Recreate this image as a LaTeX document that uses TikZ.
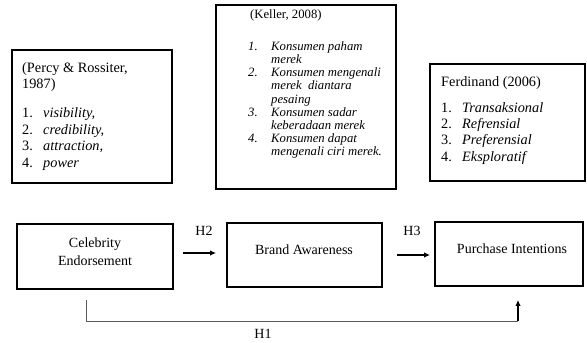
\documentclass[tikz,border=0pt]{standalone}
\usepackage{fontspec}
\setmainfont{Liberation Serif}
\usetikzlibrary{arrows.meta}
\tikzset{
  refbox/.style={draw,line width=1.5pt,inner sep=0pt},
  varbox/.style={draw,line width=1.8pt,inner sep=0pt},
  vartext/.style={inner sep=0pt,align=center,font=\fontsize{14}{18}\selectfont},
  reftext/.style={anchor=north west,inner sep=0pt},
  flow/.style={line width=1.3pt,-{Latex[length=6pt,width=5.5pt]}},
  link/.style={line width=0.8pt,black!65},
  hlabel/.style={inner sep=0pt,font=\fontsize{14}{16}\selectfont}
}
\begin{document}
\begin{tikzpicture}[x=1pt,y=-1pt]
	\useasboundingbox (0,0) rectangle (587,343);
	% theory boxes
	\node[refbox,minimum width=160pt,minimum height=133pt] (percy) at (92,116.5) {};
	\node[refbox,minimum width=180pt,minimum height=184pt] (keller) at (306,97) {};
	\node[refbox,minimum width=155pt,minimum height=117pt] (ferd) at (507.5,122.5) {};
	\node[reftext,font=\fontsize{14.3}{16.5}\selectfont] (percytxt) at (22,60.5) {%
		\begin{tabular}{@{}p{21pt}@{}l@{}}
			\multicolumn{2}{@{}l@{}}{(Percy \& Rossiter,}\\
			\multicolumn{2}{@{}l@{}}{1987)}\\[12.5pt]
			1.&\textit{visibility,}\\
			2.&\textit{credibility,}\\
			3.&\textit{attraction,}\\
			4.&\textit{power}
		\end{tabular}};
	\node[reftext,font=\fontsize{12.7}{13.1}\selectfont\itshape] (kellertxt) at (248,9.3) {%
		\begin{tabular}{@{}p{23pt}@{}l@{}}
			\multicolumn{2}{@{\hspace{2pt}}l@{}}{\upshape(Keller, 2008)}\\[18.9pt]
			1.&Konsumen paham\\
			&merek\\
			2.&Konsumen mengenali\\
			&merek\ \ diantara\\
			&pesaing\\
			3.&Konsumen sadar\\
			&keberadaan merek\\
			4.&Konsumen dapat\\
			&mengenali ciri merek.
		\end{tabular}};
	\node[reftext,font=\fontsize{14.3}{16.3}\selectfont] (ferdtxt) at (441,74.6) {%
		\begin{tabular}{@{}p{21pt}@{}l@{}}
			\multicolumn{2}{@{}l@{}}{Ferdinand (2006)}\\[9.7pt]
			1.&\textit{Transaksional}\\
			2.&\textit{Refrensial}\\
			3.&\textit{Preferensial}\\
			4.&\textit{Eksploratif}
		\end{tabular}};
	% variables
	\node[varbox,minimum width=156pt,minimum height=65pt] (cel) at (95,256.5) {};
	\node[varbox,minimum width=155pt,minimum height=64pt] (brand) at (304.5,255) {};
	\node[varbox,minimum width=148pt,minimum height=64pt] (purch) at (509,254) {};
	\node[vartext] (celtxt) at (95,252) {Celebrity\\Endorsement};
	\node[vartext] (brandtxt) at (304,250) {Brand Awareness};
	\node[vartext] (purchtxt) at (512,249) {Purchase Intentions};
	% hypotheses
	\draw[flow] ([xshift=9pt,yshift=3.5pt]cel.east) -- ([xshift=-10pt,yshift=3.5pt]cel.east -| brand.west);
	\draw[flow] ([xshift=14pt]brand.east) -- ([xshift=-4pt]brand.east -| purch.west);
	\coordinate (h1a) at ([xshift=-9pt,yshift=-10pt]cel.south);
	\coordinate (h1b) at ([xshift=9pt,yshift=-13pt]purch.south);
	\coordinate (h1c) at ([yshift=-21pt]h1a);
	\coordinate (h1d) at (h1b |- h1c);
	\draw[link] (h1a) |- (h1d);
	\draw[flow] (h1d) -- (h1b);
	\node[hlabel] (h2) at (204,231) {H2};
	\node[hlabel] (h3) at (412,231) {H3};
	\node[hlabel] (h1) at (263,334) {H1};
\end{tikzpicture}
\end{document}
